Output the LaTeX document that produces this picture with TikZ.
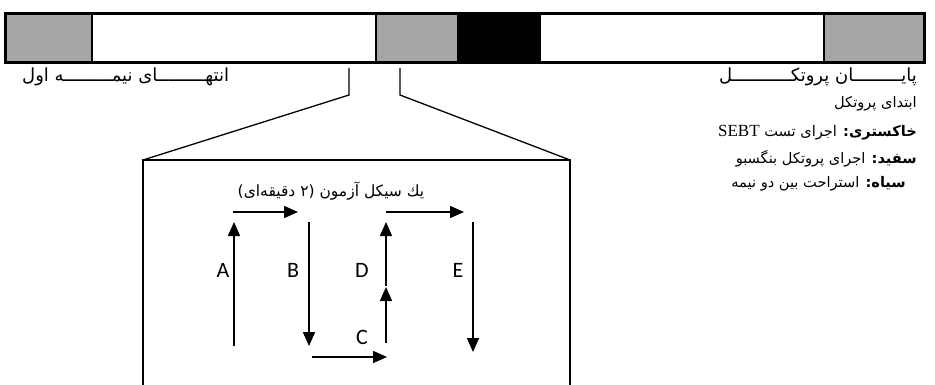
\documentclass[tikz,border=0pt]{standalone}
\usepackage{fontspec}
\usetikzlibrary{arrows.meta}
\TeXXeTstate=1
\newfontfamily\fa[Script=Arabic]{DejaVu Sans}
\newfontfamily\lab{Carlito}
\newfontfamily\tnr{Liberation Serif}
\definecolor{barg}{HTML}{A6A6A6}
\tikzset{
  seg/.style={draw=black,line width=1.5pt,minimum height=49pt,inner sep=0pt,outer sep=0pt},
  thinline/.style={line width=1.3pt,black},
  arr/.style={line width=1.6pt,-{Triangle[length=14pt,width=12pt]}},
  letter/.style={font=\lab\fontsize{22}{24}\selectfont,inner sep=0pt},
  fatext/.style={font=\fa\fontsize{18}{20}\selectfont,inner sep=0pt},
  titletext/.style={font=\fa\fontsize{15.5}{18}\selectfont,inner sep=0pt},
  legend/.style={font=\fa\fontsize{14.6}{17}\selectfont,inner sep=0pt,anchor=east}
}
\begin{document}
\begin{tikzpicture}[x=1pt,y=-1pt]
\useasboundingbox[fill=white] (0,0) rectangle (935,385);
% bar
\node[seg,fill=barg,minimum width=87pt]  (g1) at (48.5,38.5) {};
\node[seg,fill=white,minimum width=284pt] (w1) at (234,38.5) {};
\node[seg,fill=barg,minimum width=82pt]  (g2) at (417,38.5) {};
\node[seg,fill=black,minimum width=82pt] (k)  at (499,38.5) {};
\node[seg,fill=white,minimum width=284pt] (w2) at (682,38.5) {};
\node[seg,fill=barg,minimum width=100pt] (g3) at (874,38.5) {};
\draw[line width=3pt] (g1.north west) rectangle (g3.south east);
% labels under bar
\node[fatext,anchor=west] (endfirst) at (22,77) {\beginR انتهـــــــــای نیمـــــــــه اول\endR};
\node[fatext,anchor=east] (endprot) at (917,77) {\beginR پایـــــــــان پروتکـــــــــــل\endR};
% bracket and zoom box
\coordinate (b1) at (349,68);
\coordinate (b1k) at (349,95);
\coordinate (b2) at (400,68);
\coordinate (b2k) at (400,95);
\coordinate (zl) at (143,160);
\coordinate (zr) at (570,160);
\coordinate (zlb) at (143,386);
\coordinate (zrb) at (570,386);
\draw[thinline] (b1) -- (b1k) -- (zl);
\draw[thinline] (b2) -- (b2k) -- (zr);
\draw[thinline] (zlb) -- (zl) -- (zr) -- (zrb);
% title
\node[titletext] (title) at (331,191) {\beginR یك سیکل آزمون (۲ دقیقه‌ای)\endR};
% arrows
\coordinate (t1s) at (233,212); \coordinate (t1e) at (298,212);
\coordinate (as) at (234,346);  \coordinate (ae) at (234,222);
\coordinate (bs) at (309,222);  \coordinate (be) at (309,346);
\coordinate (cs) at (312,357);  \coordinate (ce) at (387,357);
\coordinate (ss) at (386,343);  \coordinate (se) at (386,287);
\coordinate (ds) at (386,286);  \coordinate (de) at (386,222);
\coordinate (t2s) at (386,212); \coordinate (t2e) at (464,212);
\coordinate (es) at (473,222);  \coordinate (ee) at (473,352);
\draw[arr] (t1s) -- (t1e);
\draw[arr] (as) -- (ae);
\draw[arr] (bs) -- (be);
\draw[arr] (cs) -- (ce);
\draw[arr] (ss) -- (se);
\draw[arr] (ds) -- (de);
\draw[arr] (t2s) -- (t2e);
\draw[arr] (es) -- (ee);
\node[letter] (la) at (223,270) {A};
\node[letter] (lb) at (293,270) {B};
\node[letter] (lc) at (362,337) {C};
\node[letter] (ld) at (362,270) {D};
\node[letter] (le) at (458,270) {E};
% legend
\node[legend] (l0) at (917,104) {\beginR ابتدای پروتکل\endR};
\node[legend] (l1) at (917,133) {\beginR\textbf{خاکستری:} اجرای تست \beginL{\tnr\fontsize{17}{19}\selectfont SEBT}\endL\endR};
\node[legend] (l2) at (917,159) {\beginR\textbf{سفید:} اجرای پروتکل بنگسبو\endR};
\node[legend] (l3) at (906,184) {\beginR\textbf{سیاه:} استراحت بین دو نیمه\endR};
\end{tikzpicture}
\end{document}
